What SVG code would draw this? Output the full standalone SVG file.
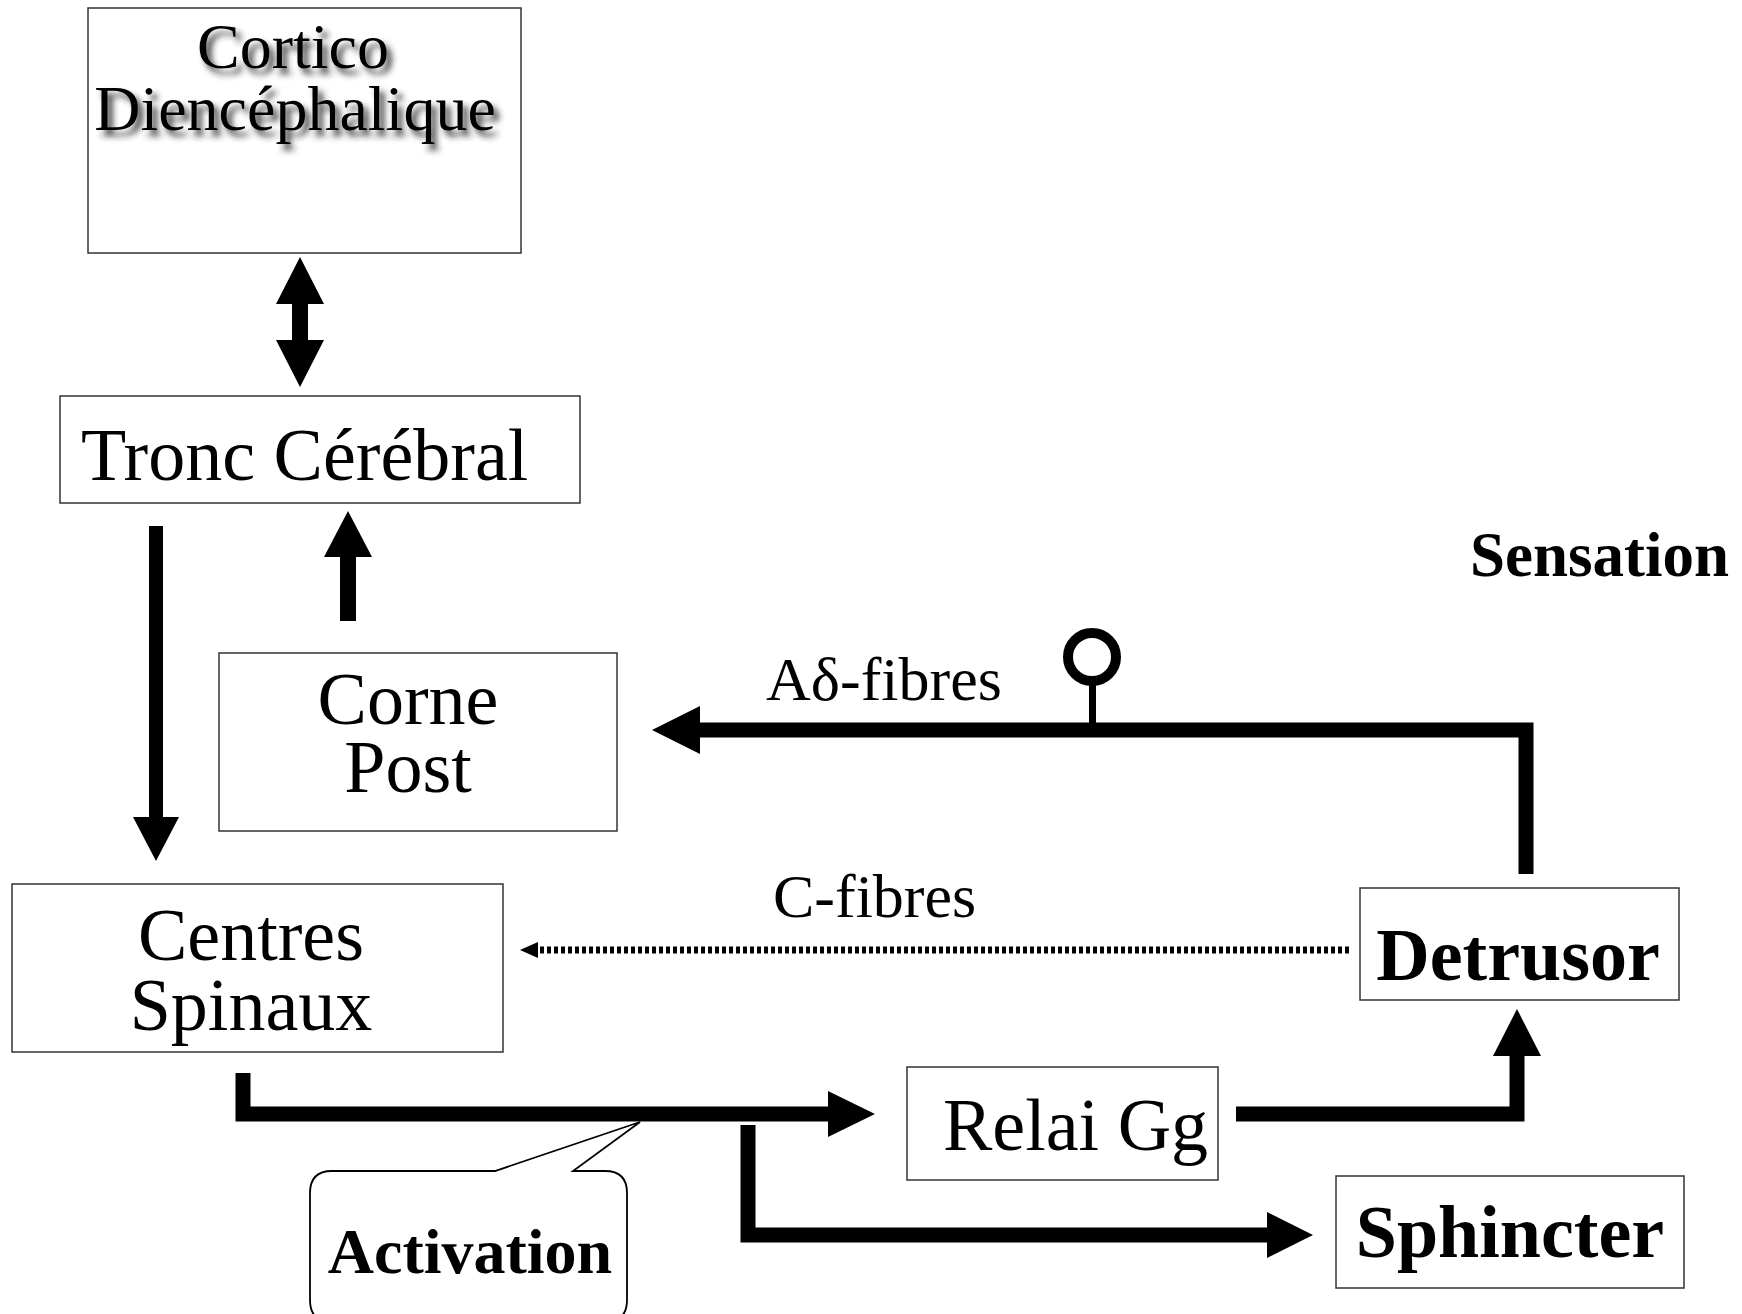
<svg xmlns="http://www.w3.org/2000/svg" width="1742" height="1314" viewBox="0 0 1742 1314">
<style>
.box{fill:#fff;stroke:#333;stroke-width:1.5}
.t{font-family:"Liberation Serif","Times New Roman",serif;fill:#000}
.n{font-size:74px}
.b{font-weight:bold}
.lbl{font-size:62px}
.k{fill:#000;stroke:none}
.thick{fill:none;stroke:#000;stroke-width:15;stroke-linejoin:miter}
</style>
<defs>
<filter id="sh" x="-10%" y="-20%" width="130%" height="150%">
<feDropShadow dx="5" dy="6" stdDeviation="3" flood-color="#222" flood-opacity="0.9"/>
</filter>
</defs>
<rect width="1742" height="1314" fill="#fff"/>

<g id="cortico">
<rect class="box" x="88" y="8" width="433" height="245"/>
<g filter="url(#sh)">
<text class="t" x="293" y="68" font-size="64" text-anchor="middle">Cortico</text>
<text class="t" x="295" y="130" font-size="64" text-anchor="middle">Diencéphalique</text>
</g>
</g>

<g id="tronc">
<rect class="box" x="60" y="396" width="520" height="107"/>
<text class="t n" x="81" y="480">Tronc Cérébral</text>
</g>

<g id="corne">
<rect class="box" x="219" y="653" width="398" height="178"/>
<text class="t n" x="408" y="724" text-anchor="middle">Corne</text>
<text class="t n" x="408" y="792" text-anchor="middle">Post</text>
</g>

<g id="centres">
<rect class="box" x="12" y="884" width="491" height="168"/>
<text class="t n" x="251" y="960" text-anchor="middle">Centres</text>
<text class="t n" x="251" y="1030" text-anchor="middle">Spinaux</text>
</g>

<g id="detrusor">
<rect class="box" x="1360" y="888" width="319" height="112"/>
<text class="t n b" x="1518" y="980" text-anchor="middle">Detrusor</text>
</g>

<g id="relai">
<rect class="box" x="907" y="1067" width="311" height="113"/>
<text class="t n" x="943" y="1150">Relai Gg</text>
</g>

<g id="sphincter">
<rect class="box" x="1336" y="1176" width="348" height="112"/>
<text class="t n b" x="1510" y="1257" text-anchor="middle">Sphincter</text>
</g>

<g id="sensation">
<text class="t b" x="1470" y="576" font-size="63">Sensation</text>
</g>

<g id="activation">
<path d="M332,1171 H495 L640,1122 L573,1171 H605 Q627,1171 627,1193 V1300 Q627,1322 605,1322 H332 Q310,1322 310,1300 V1193 Q310,1171 332,1171 Z" fill="#fff" stroke="#000" stroke-width="1.8"/>
<text class="t b" x="470" y="1273" font-size="64" text-anchor="middle">Activation</text>
</g>

<g id="connectors">
<!-- Cortico <-> Tronc -->
<polygon class="k" points="300,257 324,304 308,304 308,340 324,340 300,387 276,340 292,340 292,304 276,304"/>
<!-- Tronc -> Centres -->
<rect class="k" x="149" y="526" width="14" height="292"/>
<polygon class="k" points="133,817 179,817 156,861"/>
<!-- Corne -> Tronc -->
<rect class="k" x="340" y="555" width="16" height="66"/>
<polygon class="k" points="348,511 372,557 324,557"/>
<!-- Adelta fibres -->
<path class="thick" d="M1526,874 V730 H698" stroke-width="14"/>
<polygon class="k" points="700,706 652,730 700,754"/>
<rect class="k" x="1089" y="682" width="7" height="44"/>
<ellipse cx="1092" cy="657" rx="24" ry="24" fill="#fff" stroke="#000" stroke-width="10"/>
<text class="t lbl" x="766" y="700">Aδ-fibres</text>
<!-- C fibres -->
<line x1="1349" y1="950" x2="536" y2="950" stroke="#000" stroke-width="7" stroke-dasharray="4,3"/>
<polygon class="k" points="538,942 520,950 538,958"/>
<text class="t lbl" x="773" y="917">C-fibres</text>
<!-- Centres -> Relai -->
<path class="thick" d="M243,1073 V1114 H830"/>
<polygon class="k" points="828,1091 875,1114 828,1137"/>
<!-- branch -> Sphincter -->
<path class="thick" d="M748,1125 V1235 H1269"/>
<polygon class="k" points="1267,1212 1313,1235 1267,1258"/>
<!-- Relai -> Detrusor -->
<path class="thick" d="M1236,1114 H1517 V1054"/>
<polygon class="k" points="1493,1056 1541,1056 1517,1009"/>
</g>
</svg>
